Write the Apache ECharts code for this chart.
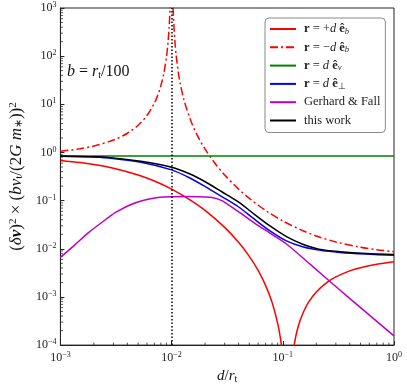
<!DOCTYPE html>
<html>
<head>
<meta charset="utf-8">
<script src="https://cdn.jsdelivr.net/npm/echarts@6/dist/echarts.min.js"></script>
<style>
html, body { margin: 0; padding: 0; background: #fff; }
#main { width: 407px; height: 389px; }
</style>
</head>
<body>
<div id="main"></div>
<script>
// values, as [d/r_t, (dv)^2 (b v_t / 2 G m)^2]
var plusB = [
    [0.001, 0.6819], [0.0015, 0.6183], [0.002, 0.5625], [0.003, 0.4705], [0.005, 0.3404],
    [0.007, 0.2549], [0.01, 0.1736], [0.015, 0.1003], [0.02, 0.0625], [0.03, 0.02779],
    [0.04, 0.01362], [0.05, 0.006956], [0.06, 0.003547], [0.07, 0.001739], [0.08, 0.000773],
    [0.09, 0.000279], [0.095, 0.0001426], [0.1, 0.000058], [0.105, 0.0000137], [0.11, 0.000001],
    [0.115, 0.0000109], [0.12, 0.0000407], [0.13, 0.0001409], [0.14, 0.0002766], [0.15, 0.0004326],
    [0.17, 0.0007695], [0.2, 0.001273], [0.25, 0.002011], [0.3, 0.002605], [0.4, 0.00347],
    [0.5, 0.004056], [0.7, 0.004791], [1, 0.005388]
];
var minusB = [
    [0.001, 1.0564], [0.0015, 1.1951], [0.002, 1.3612], [0.003, 1.8098], [0.004, 2.507],
    [0.005, 3.674], [0.006, 5.840], [0.007, 10.56], [0.0075, 15.34], [0.008, 24.17],
    [0.0085, 43.34], [0.009, 98.34], [0.0093, 201.7], [0.0095, 396.7], [0.0097, 1105], [0.0099, 9983],
    [0.01, '-'],
    [0.0101, 10017], [0.0103, 1117], [0.0105, 403.3], [0.0107, 206.5], [0.011, 101.7],
    [0.0115, 45.56], [0.012, 25.84], [0.013, 11.67], [0.015, 4.340], [0.017, 2.286],
    [0.02, 1.1736], [0.025, 0.5625], [0.03, 0.3403], [0.04, 0.1736], [0.05, 0.1111],
    [0.07, 0.0625], [0.1, 0.03781], [0.15, 0.02396], [0.2, 0.01849], [0.3, 0.01388],
    [0.5, 0.01076], [0.7, 0.00957], [1, 0.00873]
];
var alongV = [[0.001, 0.8403], [1, 0.8403]];
var perp = [
    [0.001, 0.832], [0.001778, 0.815], [0.002704, 0.766], [0.005284, 0.625], [0.01, 0.435],
    [0.01445, 0.299], [0.02023, 0.193], [0.02831, 0.121], [0.03954, 0.0755], [0.05521, 0.0416],
    [0.07727, 0.0233], [0.1079, 0.0146], [0.151, 0.0110], [0.2113, 0.0094], [0.3266, 0.0084],
    [0.5623, 0.00776], [1, 0.00733]
];
var gerhardFall = [
    [0.001, 0.00661], [0.001334, 0.01175], [0.001778, 0.0214], [0.002704, 0.0447], [0.003162, 0.0575],
    [0.004217, 0.0813], [0.005623, 0.102], [0.0075, 0.116], [0.01, 0.121], [0.01413, 0.1216],
    [0.02023, 0.119], [0.02371, 0.115], [0.02831, 0.100], [0.03954, 0.0597], [0.05521, 0.0347],
    [0.07727, 0.0209], [0.1079, 0.01259], [0.1778, 0.00468], [0.3162, 0.00148], [0.5623, 0.000479],
    [1, 0.000155]
];
var thisWork = [
    [0.001, 0.836], [0.001778, 0.817], [0.002704, 0.791], [0.005284, 0.655], [0.01, 0.494],
    [0.01445, 0.361], [0.02023, 0.244], [0.02831, 0.153], [0.03954, 0.0955], [0.05521, 0.0526],
    [0.07727, 0.0294], [0.1079, 0.0179], [0.151, 0.01245], [0.2113, 0.00984], [0.3266, 0.00869],
    [0.5623, 0.00794], [1, 0.00759]
];
var bOverRt = 0.01;
var xRange = [0.001, 1];
var yRange = [1e-4, 1e3];

var serif = 'Liberation Serif';

var xMinor = [], yMinor = [];
for (var k = -3; k < 0; k++) for (var m = 2; m <= 9; m++) xMinor.push([m * Math.pow(10, k), 1]);
for (var k = -4; k < 3; k++) for (var m = 2; m <= 9; m++) yMinor.push([0.01, m * Math.pow(10, k)]);

function powLabel(v) {
    var e = Math.round(Math.log10(v));
    return '{b|10}{s|' + (e < 0 ? '\u2212' + (-e) : e) + '}';
}
var powRich = {
    b: { fontFamily: serif, fontSize: 12, color: '#222', lineHeight: 14 },
    s: { fontFamily: serif, fontSize: 8, color: '#222', lineHeight: 8, verticalAlign: 'top' }
};

var legendText = {
    'plus': '{bf|r} = +{it|d} {bf|\u00ea}{sb|b}',
    'minus': '{bf|r} = \u2212{it|d} {bf|\u00ea}{sb|b}',
    'vel': '{bf|r} = {it|d} {bf|\u00ea}{sb|v}',
    'perp': '{bf|r} = {it|d} {bf|\u00ea}{su|\u22a5}',
    'gf': 'Gerhard & Fall',
    'tw': 'this work'
};

var myChart = echarts.init(document.getElementById('main'));

var option = {
    animation: false,
    backgroundColor: '#fff',
    grid: { left: 50, right: 13, top: 8, bottom: 38, show: true, borderColor: '#222', borderWidth: 1 },
    legend: {
        data: ['plus', 'minus', 'vel', 'perp', 'gf', 'tw'],
        orient: 'vertical',
        left: 265, top: 18,
        itemWidth: 26, itemHeight: 12, itemGap: 4.3,
        padding: [4, 5, 5, 4],
        borderColor: '#888', borderWidth: 1, borderRadius: 4,
        backgroundColor: '#fff',
        itemStyle: { opacity: 0 },
        formatter: function (n) { return legendText[n]; },
        textStyle: {
            fontFamily: serif, fontSize: 12.5, lineHeight: 14, color: '#222', padding: [0, 0, 0, 3],
            rich: {
                bf: { fontFamily: serif, fontSize: 12.5, lineHeight: 14, fontWeight: 'bold', color: '#222' },
                it: { fontFamily: serif, fontSize: 12.5, lineHeight: 14, fontStyle: 'italic', color: '#222' },
                sb: { fontFamily: serif, fontSize: 8.5, fontStyle: 'italic', color: '#222', verticalAlign: 'bottom' },
                su: { fontFamily: serif, fontSize: 8.5, color: '#222', verticalAlign: 'bottom' }
            }
        }
    },
    graphic: [{
        type: 'text', left: 67, top: 64,
        style: {
            text: '{i|b} = {i|r}{s|t}/100',
            fontFamily: serif, fontSize: 16, fill: '#111',
            rich: {
                i: { fontFamily: serif, fontSize: 16, fontStyle: 'italic', color: '#111' },
                s: { fontFamily: serif, fontSize: 10, color: '#111', verticalAlign: 'bottom' }
            }
        }
    }],
    xAxis: {
        type: 'log', logBase: 10, min: xRange[0], max: xRange[1], interval: 1,
        name: '{i|d}/{i|r}{s|t}', nameLocation: 'middle', nameGap: 22,
        nameTextStyle: {
            fontFamily: serif, fontSize: 15, color: '#111',
            rich: {
                i: { fontFamily: serif, fontSize: 15, fontStyle: 'italic', color: '#111' },
                s: { fontFamily: serif, fontSize: 10, color: '#111', verticalAlign: 'bottom' }
            }
        },
        axisLine: { lineStyle: { color: '#222', width: 1 } },
        axisTick: { inside: true, length: 4, lineStyle: { color: '#222' } },
        axisLabel: { formatter: powLabel, rich: powRich, margin: 6 },
        splitLine: { show: false }
    },
    yAxis: {
        type: 'log', logBase: 10, min: yRange[0], max: yRange[1], interval: 1,
        name: '({i|\u03b4}{bv|v}){sp|2} \u00d7 ({i|bv}{sb|t}/(2{i|G m}{sb|\u2217})){sp|2}',
        nameLocation: 'middle', nameGap: 32,
        nameTextStyle: {
            fontFamily: serif, fontSize: 17, color: '#111',
            rich: {
                i: { fontFamily: serif, fontSize: 17, fontStyle: 'italic', color: '#111' },
                bv: { fontFamily: serif, fontSize: 17, fontWeight: 'bold', fontStyle: 'italic', color: '#111' },
                sp: { fontFamily: serif, fontSize: 11, color: '#111', verticalAlign: 'top' },
                sb: { fontFamily: serif, fontSize: 11, color: '#111', verticalAlign: 'bottom' }
            }
        },
        axisLine: { show: true, lineStyle: { color: '#222', width: 1 } },
        axisTick: { inside: true, length: 4, lineStyle: { color: '#222' } },
        axisLabel: { formatter: powLabel, rich: powRich, margin: 4 },
        splitLine: { show: false }
    },
    series: [
        {
            name: 'plus', type: 'line', data: plusB, symbol: 'none', smooth: 0.3,
            lineStyle: { color: '#ff0000', width: 1.5 }, itemStyle: { color: '#ff0000' }
        },
        {
            name: 'minus', type: 'line', data: minusB, symbol: 'none', smooth: 0.3,
            lineStyle: { color: '#ff0000', width: 1.5, type: [8, 3, 2, 3] }, itemStyle: { color: '#ff0000' }
        },
        {
            name: 'vel', type: 'line', data: alongV, symbol: 'none',
            lineStyle: { color: '#008000', width: 1.5 }, itemStyle: { color: '#008000' }
        },
        {
            name: 'perp', type: 'line', data: perp, symbol: 'none', smooth: 0.3,
            lineStyle: { color: '#0000ff', width: 1.5 }, itemStyle: { color: '#0000ff' }
        },
        {
            name: 'gf', type: 'line', data: gerhardFall, symbol: 'none', smooth: 0.3,
            lineStyle: { color: '#bf00bf', width: 1.5 }, itemStyle: { color: '#bf00bf' }
        },
        {
            name: 'tw', type: 'line', data: thisWork, symbol: 'none', smooth: 0.3,
            lineStyle: { color: '#000000', width: 1.5 }, itemStyle: { color: '#000000' },
            markLine: {
                silent: true, symbol: 'none', label: { show: false },
                lineStyle: { color: '#000', width: 1.5, type: [1.5, 2] },
                data: [{ xAxis: bOverRt }]
            }
        },
        {
            // minor ticks on the x axis
            type: 'custom', data: xMinor, silent: true, clip: false,
            renderItem: function (params, api) {
                var p = api.coord([api.value(0), yRange[0]]);
                return { type: 'line', shape: { x1: p[0], y1: p[1], x2: p[0], y2: p[1] - 2.5 },
                         style: { stroke: '#222', lineWidth: 0.8 } };
            }
        },
        {
            // minor ticks on the y axis
            type: 'custom', data: yMinor, silent: true, clip: false,
            renderItem: function (params, api) {
                var p = api.coord([xRange[0], api.value(1)]);
                return { type: 'line', shape: { x1: p[0], y1: p[1], x2: p[0] + 2.5, y2: p[1] },
                         style: { stroke: '#222', lineWidth: 0.8 } };
            }
        }
    ]
};

myChart.setOption(option);
</script>
</body>
</html>
